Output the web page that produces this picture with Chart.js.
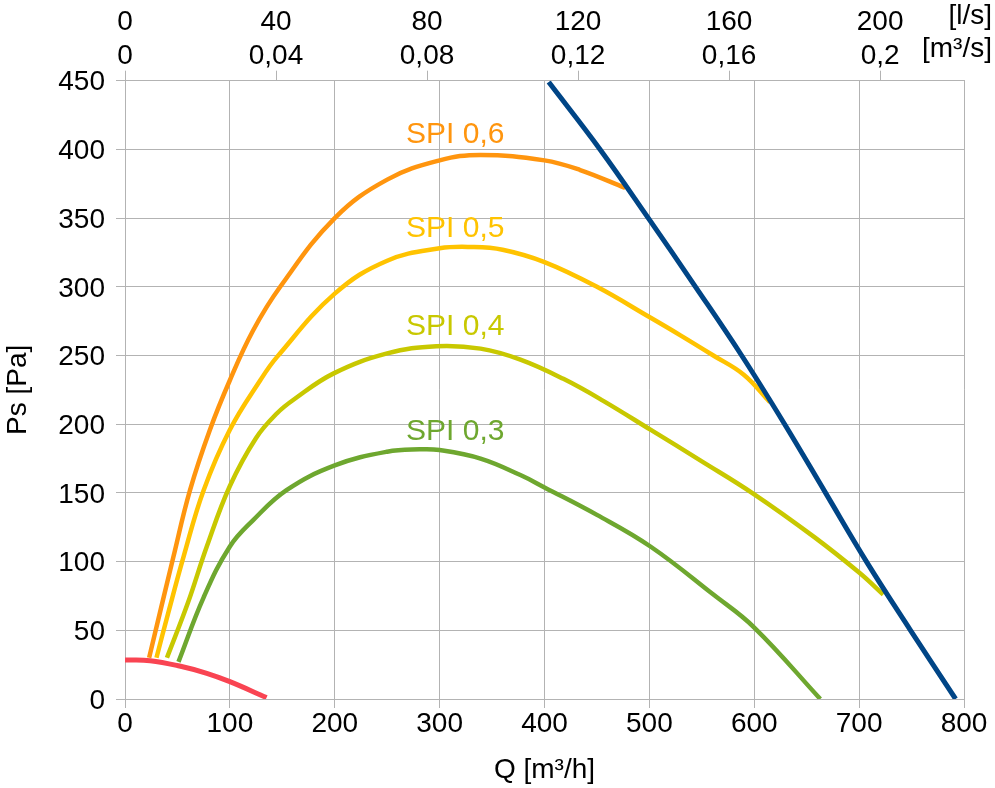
<!DOCTYPE html>
<html>
<head>
<meta charset="utf-8">
<script src="https://cdn.jsdelivr.net/npm/chart.js@4.4.1/dist/chart.umd.min.js"></script>
<style>
html,body{margin:0;padding:0;background:#fff;}
#c{display:block;}
</style>
</head>
<body>
<canvas id="c" width="995" height="788"></canvas>
<script>
// ---- data ----
const spi06Q  = [23, 46, 62, 81, 100, 122, 148, 200, 250, 300, 339, 400, 434, 477];
const spi06Ps = [30, 103, 152, 196, 232, 268, 300, 350, 378, 392, 396, 392, 385, 372];

const spi05Q  = [30, 41, 56, 75, 100, 129, 145, 200, 250, 300, 330, 360, 400, 450, 500, 530, 561, 590, 615];
const spi05Ps = [30, 62, 104, 152, 196, 232, 249, 295, 319, 328, 329, 327, 318, 300, 278, 264.5, 250, 236, 216];

const spi04Q  = [40, 60, 78, 100, 125, 145, 161, 199, 250, 297, 339, 377, 418, 456, 501, 550, 600, 657, 700, 723];
const spi04Ps = [30, 70, 111, 155, 190, 208, 218, 237, 251.5, 256.8, 255, 247, 233, 217, 196, 173, 149, 118, 92, 76];

const spi03Q  = [51, 75, 100, 122, 154, 200, 250, 281, 300, 339, 377, 400, 450, 501, 561, 600, 663];
const spi03Ps = [27, 74, 111, 130, 152, 170, 180, 181.7, 181.2, 175, 163, 154, 134, 111, 76, 52, 0];

const minQ  = [0, 24, 52, 78, 100, 135];
const minPs = [28.4, 27.9, 24, 18.7, 12.6, 1];

const maxQ  = [404, 453, 499, 544, 588, 629, 668, 707, 749, 792];
const maxPs = [449, 400, 350, 300, 250, 200, 150, 100, 50, 0];

const topTicksLs  = [0, 40, 80, 120, 160, 200];
const topTicksM3s = ['0', '0,04', '0,08', '0,12', '0,16', '0,2'];
const spiLabels   = ['SPI 0,6', 'SPI 0,5', 'SPI 0,4', 'SPI 0,3'];

// ---- build ----
const FONT = "'Liberation Sans', Arial, sans-serif";
const pts = (xs, ys) => xs.map((x, i) => ({x: x, y: ys[i]}));
const colors = {
  blue: '#004586', red: '#f94452',
  o6: '#ff950e', o5: '#ffc300', o4: '#c8c800', o3: '#6ea72f'
};
const GRID = '#b3b3b3';

function ds(data, color, w) {
  return {data: data, borderColor: color, backgroundColor: color, borderWidth: w,
          pointRadius: 0, tension: 0.4, fill: false,
          borderCapStyle: 'butt', borderJoinStyle: 'round'};
}

const labelPlacement = [
  {text: spiLabels[0], color: colors.o6, q: 268, ps: 410.4},
  {text: spiLabels[1], color: colors.o5, q: 268, ps: 342},
  {text: spiLabels[2], color: colors.o4, q: 268, ps: 270.7},
  {text: spiLabels[3], color: colors.o3, q: 268, ps: 194.3}
];

const extraText = {
  id: 'extraText',
  afterDraw(chart) {
    const ctx = chart.ctx;
    const xs = chart.scales.x, ys = chart.scales.y;
    ctx.save();
    ctx.textBaseline = 'middle';
    ctx.textAlign = 'left';
    ctx.font = '30px ' + FONT;
    labelPlacement.forEach(l => {
      ctx.fillStyle = l.color;
      ctx.fillText(l.text, xs.getPixelForValue(l.q), ys.getPixelForValue(l.ps));
    });
    ctx.fillStyle = '#000';
    ctx.textAlign = 'right';
    ctx.font = '28px ' + FONT;
    ctx.fillText('[l/s]', 992, 16);
    ctx.fillText('[m\u00B3/s]', 992, 49);
    ctx.restore();
  }
};

new Chart(document.getElementById('c'), {
  type: 'line',
  data: {
    datasets: [
      ds(pts(maxQ, maxPs), colors.blue, 5),
      ds(pts(minQ, minPs), colors.red, 5),
      ds(pts(spi06Q, spi06Ps), colors.o6, 4.5),
      ds(pts(spi05Q, spi05Ps), colors.o5, 4.5),
      ds(pts(spi04Q, spi04Ps), colors.o4, 4.5),
      ds(pts(spi03Q, spi03Ps), colors.o3, 4.5)
    ]
  },
  options: {
    responsive: false,
    animation: false,
    devicePixelRatio: 1,
    layout: {padding: {left: 0, right: 31, top: 0, bottom: 0}},
    plugins: {legend: {display: false}, tooltip: {enabled: false}},
    scales: {
      x: {
        type: 'linear', position: 'bottom', min: 0, max: 800,
        ticks: {stepSize: 100, color: '#000', font: {family: FONT, size: 28, lineHeight: 1}, padding: 2, maxRotation: 0},
        grid: {color: GRID, tickLength: 9, tickColor: GRID},
        border: {color: GRID},
        title: {display: true, text: 'Q [m\u00B3/h]', color: '#000', font: {family: FONT, size: 28}, padding: {top: 0, bottom: 1}},
        afterFit(s) { s.height = 89; }
      },
      x2: {
        type: 'linear', position: 'top', min: 0, max: 800,
        afterBuildTicks(s) { s.ticks = topTicksLs.map(v => ({value: v * 3.6})); },
        ticks: {
          autoSkip: false, maxRotation: 0, color: '#000', padding: -2,
          font: {family: FONT, size: 28, lineHeight: 1.2},
          callback: (v, i) => [String(topTicksLs[i]), topTicksM3s[i]]
        },
        grid: {drawOnChartArea: false, color: GRID, tickLength: 10, tickColor: GRID},
        border: {color: GRID},
        afterFit(s) { s.height = 80.7; }
      },
      y: {
        min: 0, max: 450,
        ticks: {stepSize: 50, color: '#000', font: {family: FONT, size: 28}, padding: 11, labelOffset: 2},
        grid: {color: GRID, tickLength: 9, tickColor: GRID},
        border: {color: GRID},
        title: {display: true, text: 'Ps [Pa]', color: '#000', font: {family: FONT, size: 28}, padding: {top: 1, bottom: 0}},
        afterFit(s) { s.width = 125; }
      }
    }
  },
  plugins: [extraText]
});
</script>
</body>
</html>
